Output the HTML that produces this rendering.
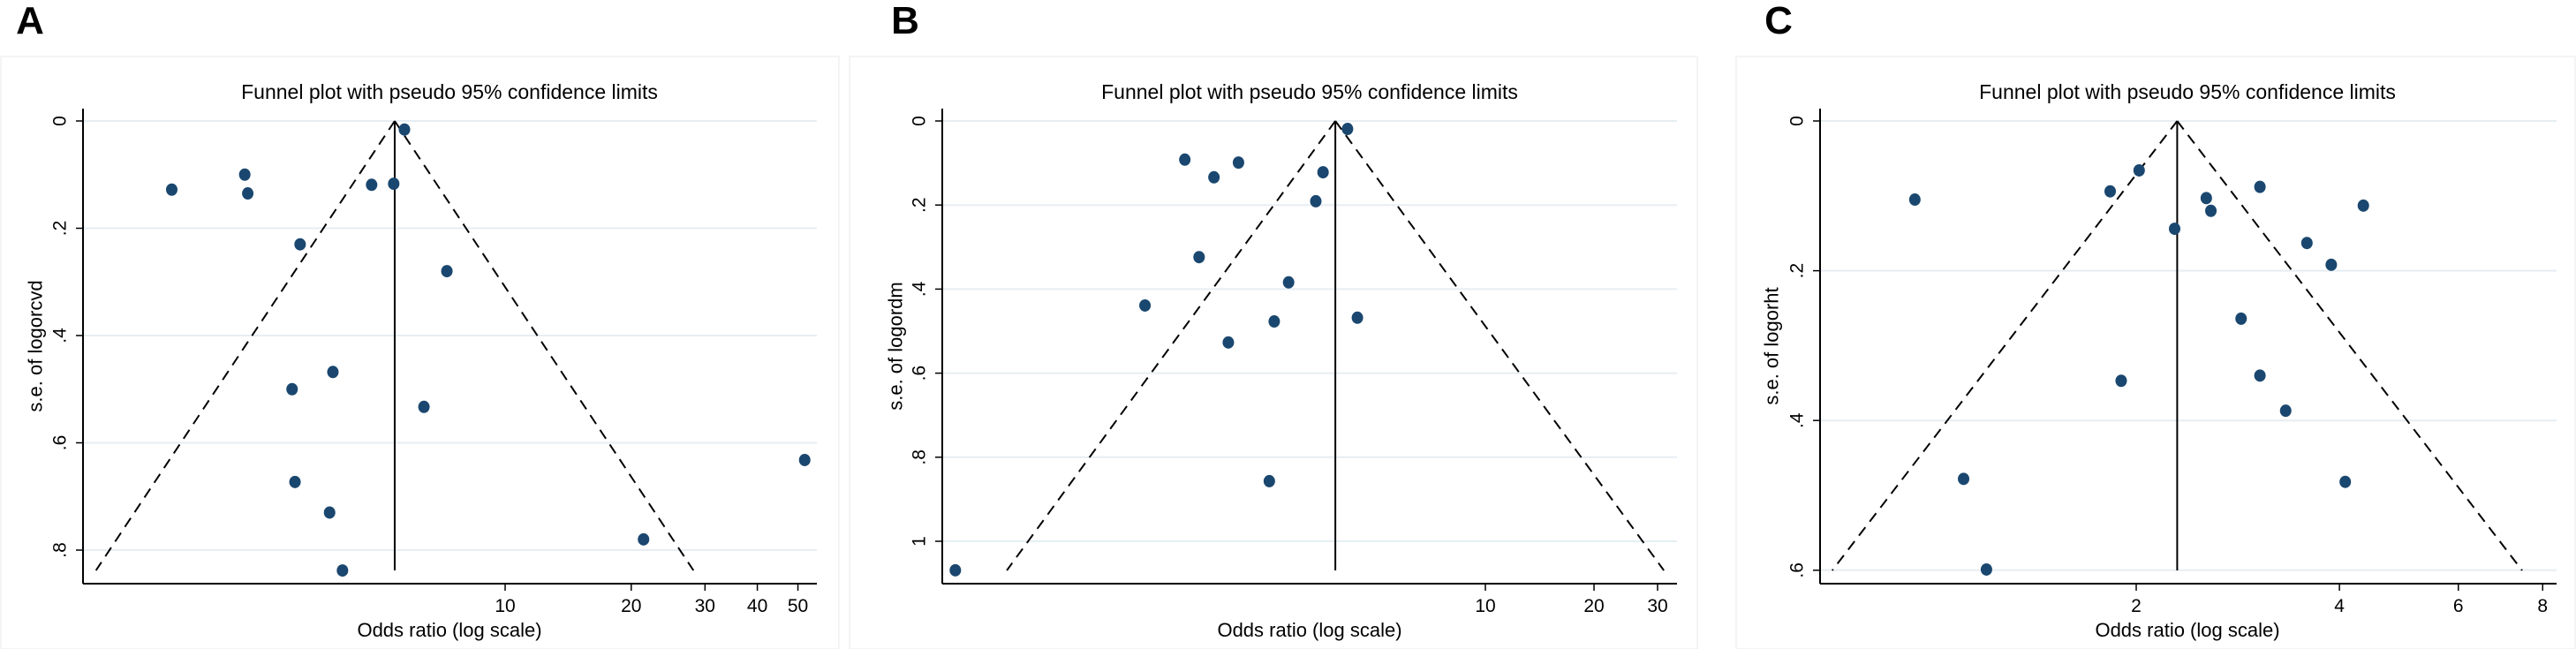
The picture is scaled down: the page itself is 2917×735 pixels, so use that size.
<!DOCTYPE html>
<html><head><meta charset="utf-8">
<style>
html,body{margin:0;padding:0;background:#fff;}
svg{display:block;font-family:"Liberation Sans",Arial,sans-serif;}
</style></head>
<body>
<svg id="fig" width="2917" height="735" viewBox="0 0 2917 735" xmlns="http://www.w3.org/2000/svg"></svg>
<script>
// Panel A data
const orA = [5.75,2.39,1.60,2.43,4.80,5.42,3.24,7.26,3.88,3.10,6.40,51.9,3.15,3.81,21.4,4.09];
const seA = [0.016,0.100,0.128,0.135,0.119,0.117,0.230,0.280,0.468,0.500,0.533,0.632,0.673,0.730,0.780,0.838];
const pooledA = 5.45;
const xTicksA = [10,20,30,40,50];
const yTicksA = [0,0.2,0.4,0.6,0.8];
const yTickLabelsA = ["0",".2",".4",".6",".8"];
// Panel B data
const orB = [4.15,1.47,2.07,1.77,3.55,3.39,1.61,2.85,1.14,4.42,2.60,1.94,2.52,0.34];
const seB = [0.019,0.092,0.099,0.134,0.122,0.191,0.324,0.384,0.439,0.468,0.477,0.527,0.857,1.069];
const pooledB = 3.84;
const xTicksB = [10,20,30];
const yTicksB = [0,0.2,0.4,0.6,0.8,1];
const yTickLabelsB = ["0",".2",".4",".6",".8","1"];
// Panel C data
const orC = [2.02,1.83,0.94,2.54,3.05,2.58,4.34,2.28,3.58,3.89,2.86,3.05,1.90,3.33,1.11,4.08,1.20];
const seC = [0.066,0.094,0.105,0.103,0.088,0.120,0.113,0.144,0.163,0.192,0.264,0.340,0.347,0.387,0.478,0.482,0.599];
const pooledC = 2.30;
const xTicksC = [2,4,6,8];
const yTicksC = [0,0.2,0.4,0.6];
const yTickLabelsC = ["0",".2",".4",".6"];

const NS="http://www.w3.org/2000/svg";
const svg=document.getElementById('fig');
function mk(tag,attrs,parent,text){
  const e=document.createElementNS(NS,tag);
  for(const k in attrs)e.setAttribute(k,attrs[k]);
  if(text!==undefined)e.textContent=text;
  (parent||svg).appendChild(e);return e;
}

function panel(cfg){
  const g=mk('g',{});
  
  
  const bg=mk('rect',{x:cfg.bx0,y:64,width:cfg.bx1-cfg.bx0,height:671,fill:'#fff',stroke:'#f0f0f0','stroke-width':1.5},g);
  
  
  const letter=mk('text',{x:cfg.letterX,y:38,'font-size':44,'font-weight':'bold','text-anchor':'middle',fill:'#000'},g,cfg.letter);
  
  
  const xs=v=>cfg.refX+cfg.k*Math.log(v/cfg.refV);
  const ys=s=>137+cfg.ky*s;
  // gridlines
  cfg.yTicks.forEach((t,i)=>{
    const gl=mk('line',{x1:cfg.ax,x2:cfg.gx1,y1:ys(t),y2:ys(t),stroke:'#e6eef3','stroke-width':2},g);
    
    
    const tk=mk('line',{x1:cfg.ax-8,x2:cfg.ax,y1:ys(t),y2:ys(t),stroke:'#000','stroke-width':1.5},g);
    
    
    const lx=cfg.ax-26, ly=ys(t);
    const lb=mk('text',{x:lx,y:ly,'font-size':21,'text-anchor':'middle','dominant-baseline':'central',transform:`rotate(-90 ${lx} ${ly})`},g,cfg.yLabels[i]);
    
    
  });
  // axes
  const ya=mk('line',{x1:cfg.ax,x2:cfg.ax,y1:123,y2:661,stroke:'#000','stroke-width':2},g);
  
  
  const xa=mk('line',{x1:cfg.ax,x2:cfg.gx1,y1:661,y2:661,stroke:'#000','stroke-width':2},g);
  
  
  cfg.xTicks.forEach(t=>{
    const tk=mk('line',{x1:xs(t),x2:xs(t),y1:661,y2:669,stroke:'#000','stroke-width':1.5},g);
    
    
    const lb=mk('text',{x:xs(t),y:693,'font-size':21,'text-anchor':'middle'},g,String(t));
    
    
  });
  // funnel
  const seMax=Math.max(...cfg.se);
  const smax=(646-137)/cfg.ky;
  const px=xs(cfg.pooled);
  const lo=cfg.pooled*Math.exp(-1.96*smax), hi=cfg.pooled*Math.exp(1.96*smax);
  const fl=mk('line',{x1:px,y1:ys(0),x2:xs(lo),y2:ys(smax),stroke:'#000','stroke-width':2,'stroke-dasharray':'12,8'},g);
  
  
  const fr=mk('line',{x1:px,y1:ys(0),x2:xs(hi),y2:ys(smax),stroke:'#000','stroke-width':2,'stroke-dasharray':'12,8'},g);
  
  
  const vl=mk('line',{x1:px,x2:px,y1:ys(0),y2:ys(smax),stroke:'#000','stroke-width':2},g);
  
  
  // points
  cfg.or.forEach((v,i)=>{
    const c=mk('ellipse',{cx:xs(v),cy:ys(cfg.se[i]),rx:6.5,ry:7,fill:'#1a476f'},g);
    
    
  });
  // titles
  const tt=mk('text',{x:cfg.cx,y:112,'font-size':23,'text-anchor':'middle'},g,'Funnel plot with pseudo 95% confidence limits');
  
  
  const xt=mk('text',{x:cfg.cx,y:721,'font-size':22,'text-anchor':'middle'},g,'Odds ratio (log scale)');
  
  
  const tx=cfg.ytx, ty=392;
  const yt=mk('text',{x:tx,y:ty,'font-size':22,'text-anchor':'middle','dominant-baseline':'central',transform:`rotate(-90 ${tx} ${ty})`},g,cfg.ytitle);
  
  
}

panel({id:'a',letter:'A',letterX:34,bx0:1,bx1:950,ax:94,gx1:925,refX:572,refV:10,k:206,ky:607.5,
  xTicks:xTicksA,yTicks:yTicksA,yLabels:yTickLabelsA,or:orA,se:seA,pooled:pooledA,cx:509,ytx:40,ytitle:'s.e. of logorcvd'});
panel({id:'b',letter:'B',letterX:1025,bx0:962,bx1:1922,ax:1067,gx1:1899,refX:1682,refV:10,k:177.5,ky:476,
  xTicks:xTicksB,yTicks:yTicksB,yLabels:yTickLabelsB,or:orB,se:seB,pooled:pooledB,cx:1483,ytx:1014,ytitle:'s.e. of logordm'});
panel({id:'c',letter:'C',letterX:2014,bx0:1966,bx1:2916,ax:2061,gx1:2895,refX:2419,refV:2,k:332,ky:848,
  xTicks:xTicksC,yTicks:yTicksC,yLabels:yTickLabelsC,or:orC,se:seC,pooled:pooledC,cx:2477,ytx:2006,ytitle:'s.e. of logorht'});
</script>
</body></html>
